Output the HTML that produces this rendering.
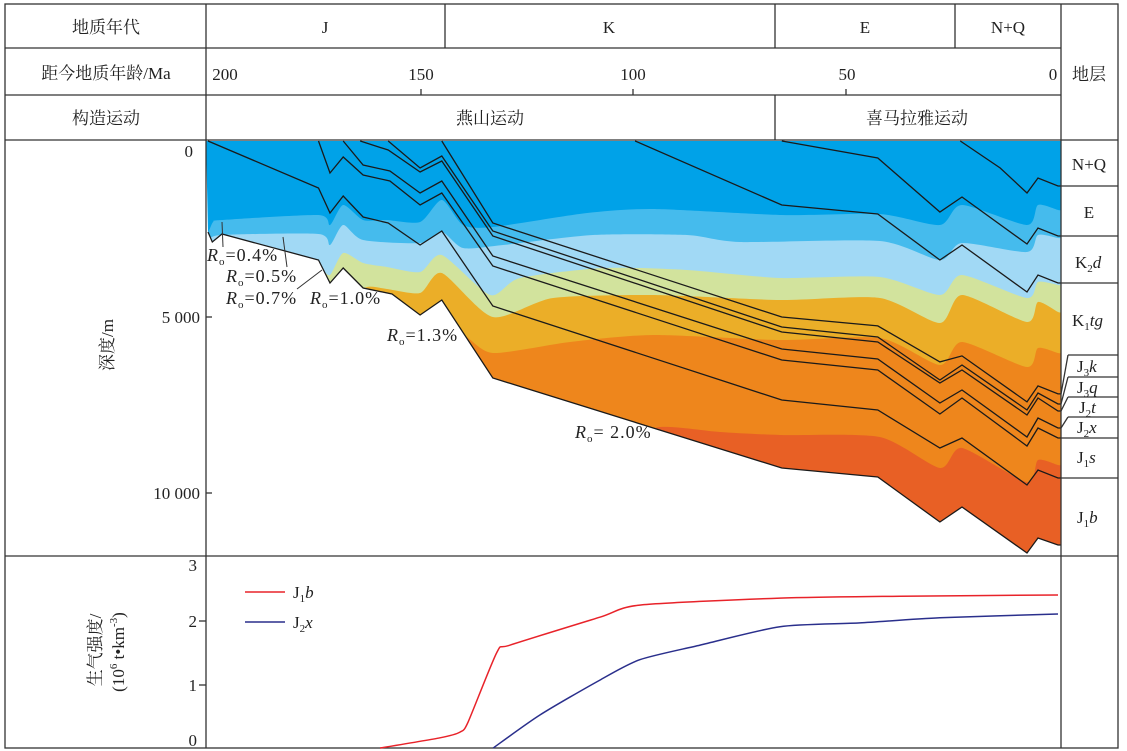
<!DOCTYPE html>
<html><head><meta charset="utf-8"><style>
html,body{margin:0;padding:0;background:#fff;}
svg{display:block;font-family:"Liberation Serif","Noto Serif CJK SC",serif;}
</style></head><body>
<svg id="chart" width="1127" height="751" viewBox="0 0 1127 751" xmlns="http://www.w3.org/2000/svg">
<defs><clipPath id="sedClip"><polygon id="sedPoly" points=""/></clipPath></defs>
<g id="fills" clip-path="url(#sedClip)"></g>
<g id="horizons"></g>
<g id="frame" stroke="#333" stroke-width="1.3" fill="none">
<rect x="5" y="4" width="1113" height="744"/>
<line x1="5" y1="48" x2="1061" y2="48"/><line x1="5" y1="95" x2="1061" y2="95"/>
<line x1="5" y1="140" x2="1118" y2="140"/><line x1="5" y1="556" x2="1118" y2="556"/>
<line x1="206" y1="4" x2="206" y2="748"/><line x1="1061" y1="4" x2="1061" y2="748"/>
<line x1="445" y1="4" x2="445" y2="48"/><line x1="775" y1="4" x2="775" y2="48"/><line x1="955" y1="4" x2="955" y2="48"/>
<line x1="775" y1="95" x2="775" y2="140"/>
<line x1="421" y1="89" x2="421" y2="95"/><line x1="633" y1="89" x2="633" y2="95"/><line x1="846" y1="89" x2="846" y2="95"/>
<line x1="206" y1="317" x2="212" y2="317"/><line x1="206" y1="493" x2="212" y2="493"/>
<line x1="199" y1="621" x2="206" y2="621"/><line x1="199" y1="685" x2="206" y2="685"/>
<line x1="1061" y1="186" x2="1118" y2="186"/><line x1="1061" y1="236" x2="1118" y2="236"/><line x1="1061" y1="283" x2="1118" y2="283"/>
<line x1="1068" y1="355" x2="1118" y2="355"/><line x1="1068" y1="377" x2="1118" y2="377"/><line x1="1068" y1="397" x2="1118" y2="397"/>
<line x1="1068" y1="417" x2="1118" y2="417"/><line x1="1061" y1="438" x2="1118" y2="438"/><line x1="1061" y1="478" x2="1118" y2="478"/>
<polyline points="1068,355 1061,394"/><polyline points="1068,377 1061,404"/><polyline points="1068,397 1061,411"/><polyline points="1068,417 1061,428"/>
<line x1="222" y1="222" x2="223" y2="247" stroke-width="1"/><line x1="283" y1="237" x2="287" y2="267" stroke-width="1"/><line x1="297" y1="289" x2="322" y2="270" stroke-width="1"/>
</g>
<g font-size="17" fill="#222">
<text x="106" y="33" text-anchor="middle">地质年代</text>
<text x="325" y="33" text-anchor="middle">J</text>
<text x="609" y="33" text-anchor="middle">K</text>
<text x="865" y="33" text-anchor="middle">E</text>
<text x="1008" y="33" text-anchor="middle">N+Q</text>
<text x="106" y="79" text-anchor="middle">距今地质年龄/Ma</text>
<text x="225" y="80" text-anchor="middle">200</text>
<text x="421" y="80" text-anchor="middle">150</text>
<text x="633" y="80" text-anchor="middle">100</text>
<text x="847" y="80" text-anchor="middle">50</text>
<text x="1053" y="80" text-anchor="middle">0</text>
<text x="1089" y="80" text-anchor="middle">地层</text>
<text x="106" y="124" text-anchor="middle">构造运动</text>
<text x="490" y="124" text-anchor="middle">燕山运动</text>
<text x="917" y="124" text-anchor="middle">喜马拉雅运动</text>
<text x="193" y="157" text-anchor="end">0</text>
<text x="200" y="323" text-anchor="end">5 000</text>
<text x="200" y="499" text-anchor="end">10 000</text>
<text transform="translate(113,345) rotate(-90)" text-anchor="middle">深度/m</text>
<text x="197" y="571" text-anchor="end">3</text>
<text x="197" y="627" text-anchor="end">2</text>
<text x="197" y="691" text-anchor="end">1</text>
<text x="197" y="746" text-anchor="end">0</text>
<text transform="translate(101,650) rotate(-90)" text-anchor="middle">生气强度/</text>
<text transform="translate(124,652) rotate(-90)" text-anchor="middle">(10<tspan font-size="11" dy="-7">6</tspan><tspan dy="7"> t•km</tspan><tspan font-size="11" dy="-7">-3</tspan><tspan dy="7">)</tspan></text>
<text x="1089" y="170" text-anchor="middle">N+Q</text>
<text x="1089" y="218" text-anchor="middle">E</text>
<text x="1075" y="268">K<tspan font-size="11" dy="4">2</tspan><tspan dy="-4" font-style="italic">d</tspan></text>
<text x="1072" y="326">K<tspan font-size="11" dy="4">1</tspan><tspan dy="-4" font-style="italic">tg</tspan></text>
<text x="1077" y="372">J<tspan font-size="11" dy="4">3</tspan><tspan dy="-4" font-style="italic">k</tspan></text>
<text x="1077" y="393">J<tspan font-size="11" dy="4">3</tspan><tspan dy="-4" font-style="italic">q</tspan></text>
<text x="1079" y="413">J<tspan font-size="11" dy="4">2</tspan><tspan dy="-4" font-style="italic">t</tspan></text>
<text x="1077" y="433">J<tspan font-size="11" dy="4">2</tspan><tspan dy="-4" font-style="italic">x</tspan></text>
<text x="1077" y="463">J<tspan font-size="11" dy="4">1</tspan><tspan dy="-4" font-style="italic">s</tspan></text>
<text x="1077" y="523">J<tspan font-size="11" dy="4">1</tspan><tspan dy="-4" font-style="italic">b</tspan></text>
<g font-size="18" letter-spacing="1">
<text x="207" y="261"><tspan font-style="italic">R</tspan><tspan font-size="11" dy="4">o</tspan><tspan dy="-4">=0.4%</tspan></text>
<text x="226" y="282"><tspan font-style="italic">R</tspan><tspan font-size="11" dy="4">o</tspan><tspan dy="-4">=0.5%</tspan></text>
<text x="226" y="304"><tspan font-style="italic">R</tspan><tspan font-size="11" dy="4">o</tspan><tspan dy="-4">=0.7%</tspan></text>
<text x="310" y="304"><tspan font-style="italic">R</tspan><tspan font-size="11" dy="4">o</tspan><tspan dy="-4">=1.0%</tspan></text>
<text x="387" y="341"><tspan font-style="italic">R</tspan><tspan font-size="11" dy="4">o</tspan><tspan dy="-4">=1.3%</tspan></text>
<text x="575" y="438"><tspan font-style="italic">R</tspan><tspan font-size="11" dy="4">o</tspan><tspan dy="-4">= 2.0%</tspan></text>
</g>
<g>
<line x1="245" y1="592" x2="285" y2="592" stroke="#e8232a" stroke-width="1.6"/>
<text x="293" y="598">J<tspan font-size="11" dy="4">1</tspan><tspan dy="-4" font-style="italic">b</tspan></text>
<line x1="245" y1="622" x2="285" y2="622" stroke="#2a2f8c" stroke-width="1.6"/>
<text x="293" y="628">J<tspan font-size="11" dy="4">2</tspan><tspan dy="-4" font-style="italic">x</tspan></text>
</g>
</g>
<g id="gas"></g>
</svg>
<script>
// Horizon burial paths: ages (Ma) and depths (m)
const nqAge=[23,13.6,7.3,4.7,0], nqDep=[0,767,1477,1051,1278];
const eAge=[65,42.4,27.8,22.6,7.3,4.7,0], eDep=[0,483,2017,1591,2926,2471,2698];
const k2dAge=[99.5,65,42.4,27.8,22.6,7.3,4.7,0], k2dDep=[0,1818,2074,3380,2954,4290,3806,4033];
const k1tgAge=[145,133,65,42.4,27.8,22.6,7.3,4.7,0], k1tgDep=[0,2329,5000,5254,6276,6106,7412,6958,7185];
const j3kAge=[157.6,150.1,145,133,65,42.4,27.8,22.6,7.3,4.7,0], j3kDep=[0,767,426,2557,5284,5568,6790,6364,7642,7159,7472];
const j3qAge=[164.2,157.6,150.1,145,133,65,42.4,27.8,22.6,7.3,4.7,0], j3qDep=[0,256,881,568,2699,5426,5710,6875,6506,7784,7301,7671];
const j2tAge=[168.2,163.5,157.2,150.1,145,133,65,42.4,27.8,22.6,7.3,4.7,0], j2tDep=[0,682,852,1477,1136,3267,5909,6193,7443,7074,8409,7870,8154];
const j2xAge=[174,171.3,168.2,163.5,157.2,150.1,145,133,65,42.4,27.8,22.6,7.3,4.7,0], j2xDep=[0,909,455,966,1136,1818,1477,3551,6222,6506,7756,7301,8665,8154,8438];
const j1sAge=[200,174,171.3,168.2,163.5,157.6,150.1,145,133,65,42.4,27.8,22.6,7.3,4.7,0], j1sDep=[0,1335,2045,1563,2159,2330,2955,2557,4688,7358,7642,8722,8438,9773,9347,9574];
const j1bAge=[200,199,196.7,174,171.3,168.2,163.5,156.7,150.1,145,133,65,42.4,27.8,22.6,7.3,4.7,0], j1bDep=[2585,2869,2642,3381,4034,3608,4176,4347,4943,4517,6733,9290,9546,10824,10398,11705,11279,11478];
// Vitrinite reflectance isolines
const ro04Age=[200,198.8,196.7,174,171.3,168.2,163.5,158.1,150.1,145,140,133,110.8,95.3,65,41.9,27.8,22.6,7.3,4.7,0], ro04Dep=[2585,2301,2244,2102,2386,1818,2244,2244,2301,1676,2386,2443,2045,1932,2102,2074,2386,1818,2386,1818,1960];
const ro05Age=[200,196.7,174,171.3,168.2,163.5,150.1,145,140,130.6,109.4,87.3,74.8,41.9,27.8,22.6,7.3,4.7,0], ro05Dep=[2813,2671,2642,2955,2386,2813,2898,2585,3040,2955,2671,2671,2869,2841,3381,2898,3154,2671,2756];
const ro07Age=[200,178,173.6,171.3,168.2,163.5,157.9,150.1,145,133.6,126.6,107,87.3,65.4,41.9,27.8,22.6,7.3,4.7,0], ro07Dep=[3665,3523,3608,3807,3182,3466,3580,3722,3239,4375,3892,3608,3665,3892,3864,4375,3807,4460,4006,4091];
const ro10Age=[200,168.2,162.6,157.9,150.1,145,133,118.8,95.3,65.4,41.9,27.8,22.6,7.3,4.7,0], ro10Dep=[4517,4517,4148,4205,4318,3750,5000,4460,4375,4517,4460,5171,4375,5142,4574,4858];
const ro13Age=[200,145,140,133,114.8,95.3,65.4,41.9,27.8,22.6,7.3,4.7,0], ro13Dep=[5796,5796,5512,6023,5710,5512,5654,5597,6364,5710,6421,5881,6023];
const ro20Age=[200,107.8,93.6,79.5,65.4,41.9,27.8,22.6,7.3,4.7,0], ro20Dep=[8495,8495,8125,8267,8352,8409,9290,8722,9688,9063,9205];
// Gas generation intensity (10^6 t/km^3)
const j1bGasAge=[159.5,145.4,140.7,138.8,132,128.9,107.8,98.4,65.4,37.2,0], j1bGasVal=[0,0.16,0.25,0.41,1.51,1.62,2.06,2.25,2.36,2.39,2.41];
const j2xGasAge=[132.9,121.9,107.8,98.4,84.2,65.4,46.6,27.8,0], j2xGasVal=[0,0.52,1.07,1.39,1.62,1.91,1.97,2.05,2.11];

const NS='http://www.w3.org/2000/svg';
const xA=a=>1058-a*4.25, yD=d=>141+d*0.0352, yV=v=>748-v*63.5;
function pts(ag,dp,fy){let p=ag.map((a,i)=>[xA(a),fy(dp[i])]);p.push([1061,p[p.length-1][1]]);return p;}
function ptsStr(p){return p.map(q=>q[0].toFixed(1)+','+q[1].toFixed(1)).join(' ');}
function smooth(p,t){ // catmull-rom path commands (without initial M)
  let d='';
  for(let i=0;i<p.length-1;i++){
    const p0=p[Math.max(0,i-1)],p1=p[i],p2=p[i+1],p3=p[Math.min(p.length-1,i+2)];
    const c1=[p1[0]+(p2[0]-p0[0])*t,p1[1]+(p2[1]-p0[1])*t];
    const c2=[p2[0]-(p3[0]-p1[0])*t,p2[1]-(p3[1]-p1[1])*t];
    d+=' C'+c1[0].toFixed(1)+','+c1[1].toFixed(1)+' '+c2[0].toFixed(1)+','+c2[1].toFixed(1)+' '+p2[0].toFixed(1)+','+p2[1].toFixed(1);
  }
  return d;
}

const bot=pts(j1bAge,j1bDep,yD);
const sed=[[206,141],[1061,141]].concat(bot.slice().reverse());
document.getElementById('sedPoly').setAttribute('points',ptsStr(sed));

const fills=document.getElementById('fills');
const base=document.createElementNS(NS,'rect');
base.setAttribute('x',206);base.setAttribute('y',141);base.setAttribute('width',855);base.setAttribute('height',420);base.setAttribute('fill','#00a2e8');


fills.appendChild(base);
const zones=[[ro04Age,ro04Dep,'#45bbed','zone-ro-0.4'],[ro05Age,ro05Dep,'#a1d9f5','zone-ro-0.5'],[ro07Age,ro07Dep,'#d2e39d','zone-ro-0.7'],[ro10Age,ro10Dep,'#ebae28','zone-ro-1.0'],[ro13Age,ro13Dep,'#ee861c','zone-ro-1.3'],[ro20Age,ro20Dep,'#e86025','zone-ro-2.0']];
zones.forEach(z=>{
  let p=pts(z[0],z[1],yD);p=[[200,p[0][1]]].concat(p);
  const d='M'+p[0][0]+','+p[0][1].toFixed(1)+smooth(p,0.12)+' L1061,600 L200,600 Z';
  const pg=document.createElementNS(NS,'path');
  pg.setAttribute('d',d);pg.setAttribute('fill',z[2]);
  
  
  fills.appendChild(pg);
});

const hz=document.getElementById('horizons');
const horizons=[[nqAge,nqDep,'horizon-nq-base'],[eAge,eDep,'horizon-e-base'],[k2dAge,k2dDep,'horizon-k2d-base'],[k1tgAge,k1tgDep,'horizon-k1tg-base'],[j3kAge,j3kDep,'horizon-j3k-base'],[j3qAge,j3qDep,'horizon-j3q-base'],[j2tAge,j2tDep,'horizon-j2t-base'],[j2xAge,j2xDep,'horizon-j2x-base'],[j1sAge,j1sDep,'horizon-j1s-base'],[j1bAge,j1bDep,'horizon-j1b-base']];
horizons.forEach(h=>{
  const pl=document.createElementNS(NS,'polyline');
  pl.setAttribute('points',ptsStr(pts(h[0],h[1],yD)));
  pl.setAttribute('fill','none');pl.setAttribute('stroke','#1a1a1a');pl.setAttribute('stroke-width','1.3');
  
  
  hz.appendChild(pl);
});
const gas=document.getElementById('gas');
[[j1bGasAge,j1bGasVal,'#e8232a','gas-curve-j1b'],[j2xGasAge,j2xGasVal,'#2a2f8c','gas-curve-j2x']].forEach(c=>{
  const p=c[0].map((a,i)=>[xA(a),yV(c[1][i])]);
  const pl=document.createElementNS(NS,'path');
  pl.setAttribute('d','M'+p[0][0].toFixed(1)+','+p[0][1].toFixed(1)+smooth(p,0.12));
  pl.setAttribute('fill','none');pl.setAttribute('stroke',c[2]);pl.setAttribute('stroke-width','1.5');
  
  
  gas.appendChild(pl);
});
</script>
</body></html>
